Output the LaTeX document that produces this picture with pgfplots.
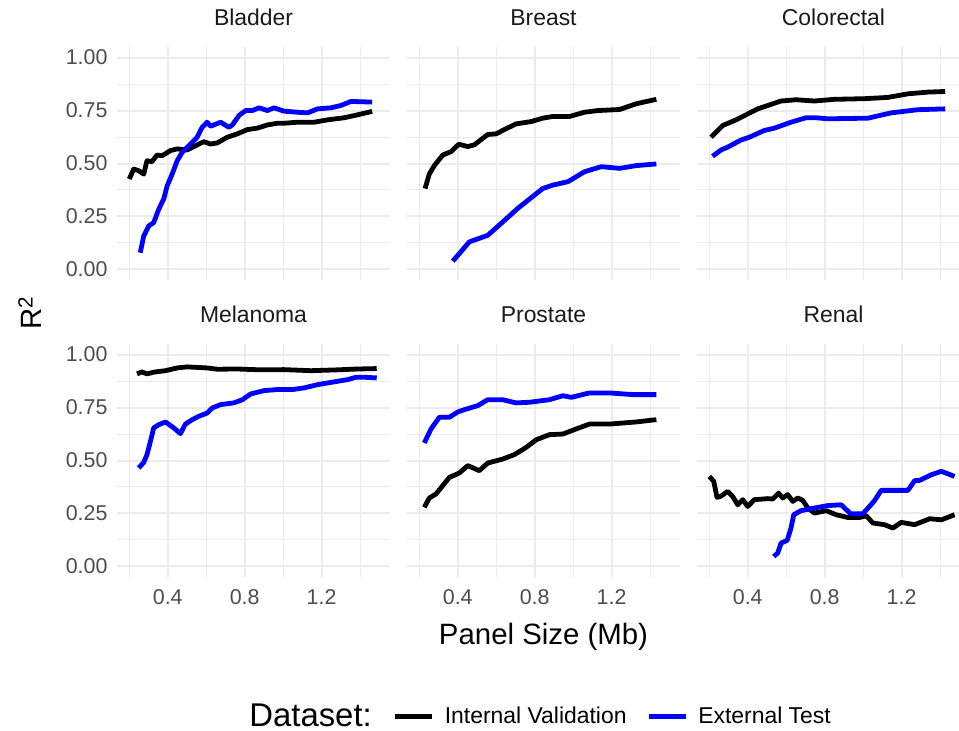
\documentclass[border=0pt]{standalone}
\usepackage{fontspec}
\setmainfont{Liberation Sans}
\usepackage{pgfplots}
\pgfplotsset{compat=1.18}
\definecolor{gridc}{HTML}{EBEBEB}
\definecolor{tickc}{HTML}{4D4D4D}
\definecolor{stripc}{HTML}{1A1A1A}
\definecolor{extblue}{HTML}{0000FF}
\pgfplotsset{
 panel/.style={
  scale only axis, width=273bp, height=233bp,
  xmin=0.136, xmax=1.556, ymin=-0.05, ymax=1.05,
  xtick={0.4,0.8,1.2}, minor xtick={0.2,0.6,1.0,1.4},
  ytick={0,0.25,0.5,0.75,1}, minor ytick={0.125,0.375,0.625,0.875},
  grid=both,
  major grid style={draw=gridc, line width=2bp},
  minor grid style={draw=gridc, line width=1bp},
  axis line style={draw=none},
  tick style={draw=none},
  major tick length=0pt, minor tick length=0pt,
  xticklabels={0.4,0.8,1.2},
  yticklabels={0.00,0.25,0.50,0.75,1.00},
  /pgf/number format/assume math mode=true,
  ticklabel style={font=\fontsize{21.5}{26}\selectfont, text=tickc},
  xticklabel style={yshift=-9bp},
  yticklabel style={xshift=-6bp},
  title style={font=\fontsize{23}{27}\selectfont, text=stripc, at={(0.5,1)}, anchor=base, yshift=16bp},
  anchor=north west,
 },
 noxl/.style={xticklabels={}},
 noyl/.style={yticklabels={}},
 int/.style={black, line width=4.8bp, line join=round, line cap=butt},
 ext/.style={extblue, line width=4.8bp, line join=round, line cap=butt},
}
\begin{document}
\begin{tikzpicture}
\path[use as bounding box] (0,0) rectangle (959bp,-731bp);
% ---------- Bladder
\begin{axis}[panel, noxl, at={(117bp,-47bp)}, title={Bladder}]
\addplot[int] coordinates {(0.2,0.427)(0.223,0.474)(0.249,0.466)(0.275,0.45)(0.292,0.513)(0.318,0.509)(0.344,0.54)(0.371,0.537)(0.414,0.561)(0.449,0.569)(0.501,0.564)(0.553,0.588)(0.588,0.603)(0.623,0.592)(0.657,0.597)(0.71,0.624)(0.762,0.64)(0.814,0.66)(0.866,0.667)(0.918,0.682)(0.97,0.69)(1.005,0.69)(1.075,0.695)(1.162,0.695)(1.231,0.706)(1.318,0.716)(1.388,0.73)(1.463,0.746)};
\addplot[ext] coordinates {(0.257,0.079)(0.275,0.158)(0.301,0.205)(0.327,0.221)(0.353,0.284)(0.379,0.332)(0.397,0.395)(0.423,0.45)(0.449,0.513)(0.475,0.553)(0.518,0.592)(0.553,0.624)(0.579,0.671)(0.605,0.695)(0.623,0.676)(0.675,0.695)(0.718,0.671)(0.736,0.682)(0.771,0.727)(0.805,0.75)(0.84,0.75)(0.875,0.763)(0.918,0.75)(0.953,0.763)(1.005,0.747)(1.075,0.742)(1.127,0.739)(1.179,0.758)(1.249,0.763)(1.301,0.774)(1.353,0.793)(1.463,0.79)};
\end{axis}
% ---------- Breast
\begin{axis}[panel, noxl, noyl, at={(407bp,-47bp)}, title={Breast}]
\addplot[int] coordinates {(0.23,0.382)(0.252,0.45)(0.278,0.49)(0.322,0.54)(0.365,0.556)(0.405,0.591)(0.452,0.58)(0.486,0.588)(0.556,0.637)(0.599,0.64)(0.651,0.664)(0.703,0.687)(0.782,0.698)(0.842,0.714)(0.894,0.722)(0.981,0.722)(1.059,0.742)(1.129,0.75)(1.242,0.755)(1.328,0.782)(1.433,0.803)};
\addplot[ext] coordinates {(0.374,0.039)(0.417,0.084)(0.46,0.13)(0.556,0.161)(0.634,0.224)(0.712,0.288)(0.773,0.332)(0.842,0.382)(0.894,0.398)(0.973,0.414)(1.059,0.461)(1.146,0.485)(1.242,0.477)(1.328,0.49)(1.433,0.498)};
\end{axis}
% ---------- Colorectal
\begin{axis}[panel, noxl, noyl, at={(697bp,-47bp)}, title={Colorectal}]
\addplot[int] coordinates {(0.209,0.624)(0.269,0.679)(0.339,0.706)(0.452,0.758)(0.573,0.795)(0.651,0.801)(0.747,0.795)(0.851,0.803)(1.007,0.806)(1.129,0.812)(1.233,0.829)(1.337,0.837)(1.427,0.84)};
\addplot[ext] coordinates {(0.217,0.534)(0.261,0.564)(0.295,0.577)(0.365,0.611)(0.408,0.624)(0.486,0.656)(0.539,0.667)(0.625,0.695)(0.703,0.716)(0.756,0.716)(0.816,0.711)(1.025,0.714)(1.146,0.739)(1.285,0.754)(1.427,0.758)};
\end{axis}
% ---------- Melanoma
\begin{axis}[panel, at={(117bp,-344bp)}, title={Melanoma}]
\addplot[int] coordinates {(0.24,0.909)(0.266,0.918)(0.292,0.909)(0.327,0.917)(0.388,0.924)(0.449,0.937)(0.501,0.942)(0.605,0.937)(0.657,0.931)(0.762,0.932)(0.883,0.928)(1.005,0.929)(1.144,0.924)(1.283,0.928)(1.388,0.932)(1.487,0.934)};
\addplot[ext] coordinates {(0.249,0.465)(0.275,0.491)(0.292,0.528)(0.31,0.591)(0.327,0.654)(0.353,0.669)(0.388,0.682)(0.431,0.654)(0.466,0.627)(0.492,0.672)(0.527,0.693)(0.562,0.709)(0.605,0.724)(0.631,0.748)(0.675,0.764)(0.744,0.772)(0.788,0.787)(0.831,0.814)(0.901,0.83)(0.97,0.835)(1.049,0.835)(1.11,0.843)(1.179,0.858)(1.283,0.874)(1.336,0.882)(1.379,0.893)(1.423,0.893)(1.487,0.89)};
\end{axis}
% ---------- Prostate
\begin{axis}[panel, noyl, at={(407bp,-344bp)}, title={Prostate},
  xlabel={Panel Size (Mb)},
  xlabel style={font=\fontsize{29.5}{34}\selectfont, at={(axis description cs:0.5,0)}, anchor=base, yshift=-67bp},
  legend style={draw=none, fill=none, legend columns=-1, at={(axis description cs:-0.052,-0.597)}, anchor=west, inner sep=0pt,
    font=\fontsize{23}{27}\selectfont,
    /tikz/every odd column/.append style={column sep=8bp},
    /tikz/every even column/.append style={column sep=18bp}},
  legend image code/.code={\draw[#1, line width=4.8bp] (0bp,0bp) -- (37bp,0bp);}]
\addplot[ext, forget plot] coordinates {(0.226,0.583)(0.261,0.649)(0.304,0.704)(0.356,0.704)(0.4,0.729)(0.434,0.74)(0.504,0.759)(0.556,0.787)(0.634,0.787)(0.703,0.772)(0.773,0.775)(0.877,0.787)(0.947,0.806)(0.99,0.798)(1.085,0.819)(1.19,0.819)(1.311,0.811)(1.433,0.811)};
\addplot[int, forget plot] coordinates {(0.226,0.279)(0.252,0.323)(0.287,0.342)(0.356,0.42)(0.408,0.441)(0.452,0.476)(0.512,0.452)(0.556,0.488)(0.634,0.507)(0.695,0.528)(0.756,0.562)(0.808,0.598)(0.877,0.622)(0.947,0.625)(1.016,0.649)(1.085,0.672)(1.19,0.672)(1.328,0.682)(1.433,0.693)};
\addlegendimage{int}\addlegendentry{Internal Validation}
\addlegendimage{ext}\addlegendentry{External Test}
\end{axis}
% ---------- Renal
\begin{axis}[panel, noyl, at={(697bp,-344bp)}, title={Renal}]
\addplot[int] coordinates {(0.2,0.425)(0.223,0.402)(0.24,0.326)(0.26,0.331)(0.295,0.354)(0.321,0.331)(0.348,0.291)(0.374,0.315)(0.4,0.283)(0.434,0.315)(0.504,0.32)(0.53,0.318)(0.56,0.346)(0.582,0.323)(0.608,0.339)(0.634,0.307)(0.66,0.323)(0.686,0.312)(0.712,0.276)(0.747,0.252)(0.808,0.263)(0.86,0.244)(0.92,0.231)(0.981,0.231)(1.016,0.239)(1.051,0.205)(1.111,0.197)(1.155,0.181)(1.198,0.208)(1.268,0.197)(1.346,0.225)(1.407,0.22)(1.476,0.244)};
\addplot[ext] coordinates {(0.535,0.047)(0.556,0.063)(0.573,0.11)(0.605,0.123)(0.625,0.181)(0.639,0.244)(0.677,0.263)(0.747,0.276)(0.816,0.287)(0.886,0.291)(0.934,0.249)(0.999,0.249)(1.033,0.283)(1.059,0.31)(1.094,0.359)(1.233,0.359)(1.268,0.405)(1.294,0.406)(1.355,0.433)(1.407,0.449)(1.476,0.425)};
\end{axis}
\node[rotate=90, font=\fontsize{29.5}{34}\selectfont] at (30bp,-313bp) {R\textsuperscript{2}};
\node[anchor=base east, font=\fontsize{33}{38}\selectfont, inner sep=0pt] at (372bp,-726bp) {Dataset:};
\end{tikzpicture}
\end{document}
